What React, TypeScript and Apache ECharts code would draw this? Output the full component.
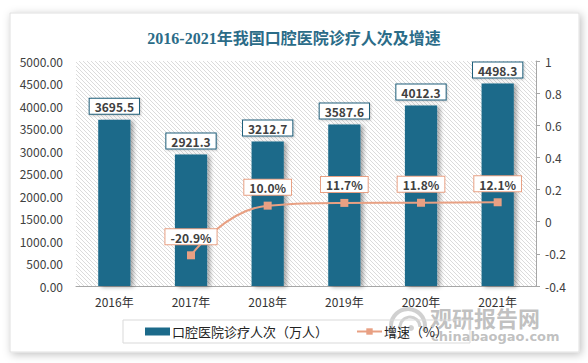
import React, { useEffect, useRef } from "react";
import * as echarts from "echarts";

const categories = ["2016年", "2017年", "2018年", "2019年", "2020年", "2021年"];
const visits = [3695.5, 2921.3, 3212.7, 3587.6, 4012.3, 4498.3];
const growth = [null, -0.209, 0.1, 0.117, 0.118, 0.121];
const growthLabels = ["", "-20.9%", "10.0%", "11.7%", "11.8%", "12.1%"];
const leftTicks = { min: 0, max: 5000, interval: 500 };
const rightTicks = { min: -0.4, max: 1, interval: 0.2 };

const BAR = "#1c6a8a";
const LINE = "#e8a083";
const FONT = "'Noto Sans CJK SC', 'Noto Sans', sans-serif";

function hatchLines(L: number, T: number, R: number, B: number, step: number) {
  const out: any[] = [];
  for (let c = L - B; c <= R - T; c += step) {
    const x1 = Math.max(L, T + c);
    const x2 = Math.min(R, B + c);
    if (x2 <= x1) continue;
    out.push({
      type: "line",
      z: -1,
      silent: true,
      shape: { x1, y1: x1 - c, x2, y2: x2 - c },
      style: { stroke: "#d2d2d2", lineWidth: 0.8 },
    });
  }
  return out;
}

export default function App() {
  const ref = useRef<HTMLDivElement>(null);
  useEffect(() => {
    if (!ref.current) return;
    const chart = echarts.init(ref.current, null, { renderer: "svg" });
    const gL = 76, gT = 61, gR = 536, gB = 286;
    const option: any = {
      animation: false,
      backgroundColor: "#ffffff",
      title: {
        text: "2016-2021年我国口腔医院诊疗人次及增速",
        left: "center",
        top: 25,
        textStyle: {
          fontSize: 16,
          fontWeight: "bold",
          color: "#2b6c88",
          fontFamily: "'Liberation Serif', 'Noto Sans CJK SC', serif",
        },
      },
      grid: { left: gL, right: 588 - gR, top: gT, bottom: 363 - gB },
      legend: {
        left: 123,
        top: 320,
        padding: [5, 22, 5, 22],
        borderColor: "#d9d9d9",
        borderWidth: 1,
        itemWidth: 25,
        itemHeight: 8,
        itemGap: 28,
        textStyle: { fontSize: 13, color: "#222", fontFamily: FONT, padding: [0, 0, 0, -3] },
        data: [
          { name: "口腔医院诊疗人次（万人）", icon: "rect" },
          { name: "增速（%）" },
        ],
      },
      xAxis: {
        type: "category",
        data: categories,
        axisLine: { lineStyle: { color: "#a6a6a6" } },
        axisTick: { show: false },
        axisLabel: { fontSize: 12, color: "#333", margin: 9, fontFamily: FONT },
      },
      yAxis: [
        {
          type: "value",
          min: leftTicks.min,
          max: leftTicks.max,
          interval: leftTicks.interval,
          axisLine: { show: false },
          axisTick: { show: false },
          splitLine: { show: false },
          axisLabel: {
            fontSize: 12,
            color: "#404040",
            margin: 13,
            fontFamily: FONT,
            formatter: (v: number) => v.toFixed(2),
          },
        },
        {
          type: "value",
          min: rightTicks.min,
          max: rightTicks.max,
          interval: rightTicks.interval,
          position: "right",
          axisLine: { show: true, lineStyle: { color: "#a6a6a6" } },
          axisTick: { show: true, length: 4, lineStyle: { color: "#a6a6a6" } },
          splitLine: { show: false },
          axisLabel: {
            fontSize: 12,
            color: "#404040",
            margin: 9,
            fontFamily: FONT,
            formatter: (v: number) => String(Math.round(v * 10) / 10),
          },
        },
      ],
      series: [
        {
          name: "口腔医院诊疗人次（万人）",
          type: "bar",
          data: visits,
          barWidth: "42%",
          itemStyle: {
            color: BAR,
            shadowColor: "rgba(0,0,0,0.35)",
            shadowBlur: 4,
            shadowOffsetX: 3,
            shadowOffsetY: 1,
          },
          label: {
            show: true,
            position: "top",
            distance: 6,
            fontSize: 12,
            fontWeight: "bold",
            color: "#404040",
            fontFamily: FONT,
            backgroundColor: "#ffffff",
            borderColor: "#1f5f7a",
            borderWidth: 1,
            padding: [2, 5, 1, 5],
            shadowColor: "rgba(0,0,0,0.2)",
            shadowBlur: 2,
            shadowOffsetX: 1,
            shadowOffsetY: 1,
            formatter: (p: any) => p.value.toFixed(1),
          },
        },
        {
          name: "增速（%）",
          type: "line",
          yAxisIndex: 1,
          data: growth,
          smooth: 0.5,
          symbol: "rect",
          symbolSize: 8,
          lineStyle: { color: LINE, width: 2 },
          itemStyle: { color: LINE },
          label: {
            show: true,
            position: "top",
            distance: 7,
            fontSize: 12,
            fontWeight: "bold",
            color: "#404040",
            fontFamily: FONT,
            backgroundColor: "#ffffff",
            borderColor: LINE,
            borderWidth: 1,
            padding: [2, 5, 1, 5],
            formatter: (p: any) => growthLabels[p.dataIndex],
          },
        },
      ],
      graphic: [
        {
          type: "rect",
          z: -2,
          silent: true,
          shape: { x: 10, y: 13, width: 569, height: 339 },
          style: {
            fill: "#ffffff",
            stroke: "#e0e0e0",
            lineWidth: 1,
            shadowColor: "rgba(0,0,0,0.25)",
            shadowBlur: 8,
            shadowOffsetX: 2,
            shadowOffsetY: 2,
          },
        },
        ...hatchLines(gL, gT, gR, gB, 4),
        {
          type: "group",
          z: 10,
          silent: true,
          children: [
            {
              type: "arc",
              shape: { cx: 408, cy: 326, r: 17, startAngle: Math.PI * 0.75, endAngle: Math.PI * 2.1 },
              style: { stroke: "rgba(150,150,150,0.45)", lineWidth: 4, fill: "none" },
            },
            {
              type: "arc",
              shape: { cx: 410, cy: 327, r: 10, startAngle: Math.PI * 0.9, endAngle: Math.PI * 2.0 },
              style: { stroke: "rgba(150,150,150,0.45)", lineWidth: 3, fill: "none" },
            },
            {
              type: "circle",
              shape: { cx: 411, cy: 328, r: 3 },
              style: { fill: "rgba(150,150,150,0.45)" },
            },
            {
              type: "text",
              x: 430,
              y: 306,
              style: {
                text: "观研报告网",
                fontSize: 22,
                fontWeight: "bold",
                fill: "rgba(140,140,140,0.55)",
                fontFamily: FONT,
              },
            },
            {
              type: "text",
              x: 431,
              y: 330,
              style: {
                text: "chinabaogao.com",
                fontSize: 13,
                fontWeight: "bold",
                fill: "rgba(140,140,140,0.55)",
                fontFamily: "'DejaVu Sans', sans-serif",
              },
            },
          ],
        },
      ],
    };
    chart.setOption(option);
    return () => chart.dispose();
  }, []);
  return (
    <div
      ref={ref}
      style={{ position: "absolute", left: 0, top: 0, width: 588, height: 363 }}
    />
  );
}
